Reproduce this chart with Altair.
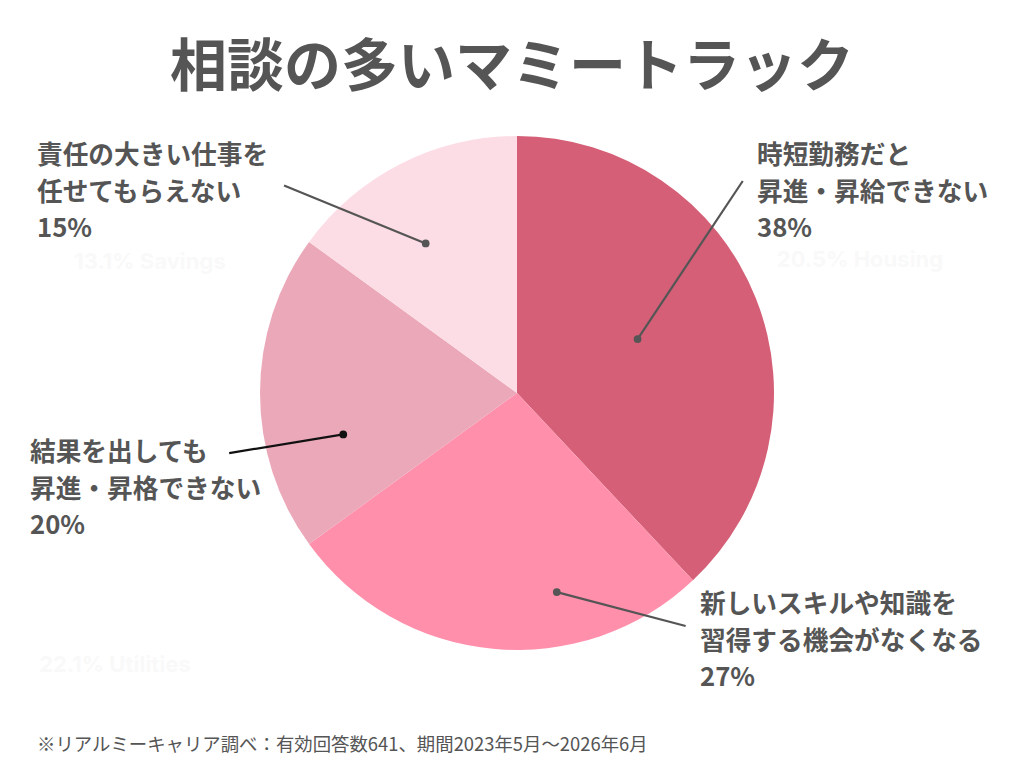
import altair as alt
import pandas as pd

# ---- data ----
categories = ["時短勤務だと\n昇進・昇給できない", "新しいスキルや知識を\n習得する機会がなくなる",
              "結果を出しても\n昇進・昇格できない", "責任の大きい仕事を\n任せてもらえない"]
values = [38, 27, 20, 15]
colors = ["#D45F76", "#FF8FAB", "#EBA8B9", "#FDDDE5"]

# callout geometry (polar, degrees clockwise from 12 o'clock, radius as fraction of pie radius)
dot_angle = [65.9, 168.7, 256.6, 328.6]
dot_radius = [0.514, 0.79, 0.695, 0.682]
end_angle = [46.8, 144.1, 258.2, 311.7]
end_radius = [1.205, 1.119, 1.144, 1.214]
line_colors = ["#555555", "#555555", "#111111", "#555555"]
label_x = [757, 700, 30, 37]
label_y = [144, 593, 441, 144]

title = "相談の多いマミートラック"
footnote = "※リアルミーキャリア調べ：有効回答数641、期間2023年5月～2026年6月"
ghost_text = ["13.1% Savings", "20.5% Housing", "22.1% Utilities"]
ghost_x = [150, 860, 115]
ghost_y = [262, 260, 665]

W, H = 1024, 768
CX, CY, R = 517, 393, 257
FONT = "Noto Sans CJK JP"

df = pd.DataFrame({
    "label": categories,
    "value": values,
    "order": list(range(len(values))),
    "color": colors,
    "da": dot_angle, "dr": dot_radius,
    "ea": end_angle, "er": end_radius,
    "lc": line_colors,
    "lx": label_x, "ly": label_y,
})
df["text"] = [c + "\n" + f"{v}%" for c, v in zip(categories, values)]

xs = alt.Scale(domain=[0, W], range=[0, W])
ys = alt.Scale(domain=[0, H], range=[0, H])

base = alt.Chart(df)

pie = base.mark_arc(radius=R).encode(
    theta=alt.Theta("value:Q", stack=True),
    order=alt.Order("order:Q"),
    color=alt.Color("color:N", scale=None),
    x=alt.value(CX), y=alt.value(CY),
)

geo = base.transform_calculate(
    dx=f"{CX} + {R} * datum.dr * sin(datum.da * PI / 180)",
    dy=f"{CY} - {R} * datum.dr * cos(datum.da * PI / 180)",
    ex=f"{CX} + {R} * datum.er * sin(datum.ea * PI / 180)",
    ey=f"{CY} - {R} * datum.er * cos(datum.ea * PI / 180)",
)

lines = geo.mark_rule(strokeWidth=2.2).encode(
    x=alt.X("dx:Q", scale=xs, axis=None),
    y=alt.Y("dy:Q", scale=ys, axis=None),
    x2="ex:Q", y2="ey:Q",
    color=alt.Color("lc:N", scale=None),
)

dots = geo.mark_circle(size=60, opacity=1).encode(
    x=alt.X("dx:Q", scale=xs, axis=None),
    y=alt.Y("dy:Q", scale=ys, axis=None),
    color=alt.Color("lc:N", scale=None),
)

labels = base.mark_text(
    align="left", baseline="top", font=FONT, fontSize=25.7, fontWeight="bold",
    lineHeight=36.5, color="#555555", lineBreak="\n",
).encode(
    x=alt.X("lx:Q", scale=xs, axis=None),
    y=alt.Y("ly:Q", scale=ys, axis=None),
    text="text:N",
)

gdf = pd.DataFrame({"t": ghost_text, "x": ghost_x, "y": ghost_y})
ghost = alt.Chart(gdf).mark_text(
    font="Inter", fontSize=22, fontWeight="bold", color="#F9F9F9", baseline="middle", align="center"
).encode(
    x=alt.X("x:Q", scale=xs, axis=None),
    y=alt.Y("y:Q", scale=ys, axis=None),
    text="t:N",
)

tdf = pd.DataFrame({"t": [title, footnote], "x": [W / 2, 37], "y": [69, 745]})
title_mark = alt.Chart(tdf.iloc[[0]]).mark_text(
    font=FONT, fontSize=57, fontWeight="bold", color="#555555", align="center", baseline="middle"
).encode(
    x=alt.X("x:Q", scale=xs, axis=None),
    y=alt.Y("y:Q", scale=ys, axis=None),
    text="t:N",
)
foot_mark = alt.Chart(tdf.iloc[[1]]).mark_text(
    font=FONT, fontSize=18.4, color="#555555", align="left", baseline="middle"
).encode(
    x=alt.X("x:Q", scale=xs, axis=None),
    y=alt.Y("y:Q", scale=ys, axis=None),
    text="t:N",
)

chart = alt.layer(ghost, pie, lines, dots, labels, title_mark, foot_mark).resolve_scale(
    x="shared", y="shared"
).properties(
    width=W, height=H, autosize=alt.AutoSizeParams(type="none"), padding=0, background="white"
).configure_view(stroke=None)

chart.save("out.html", embed_options={"renderer": "svg", "actions": False})
